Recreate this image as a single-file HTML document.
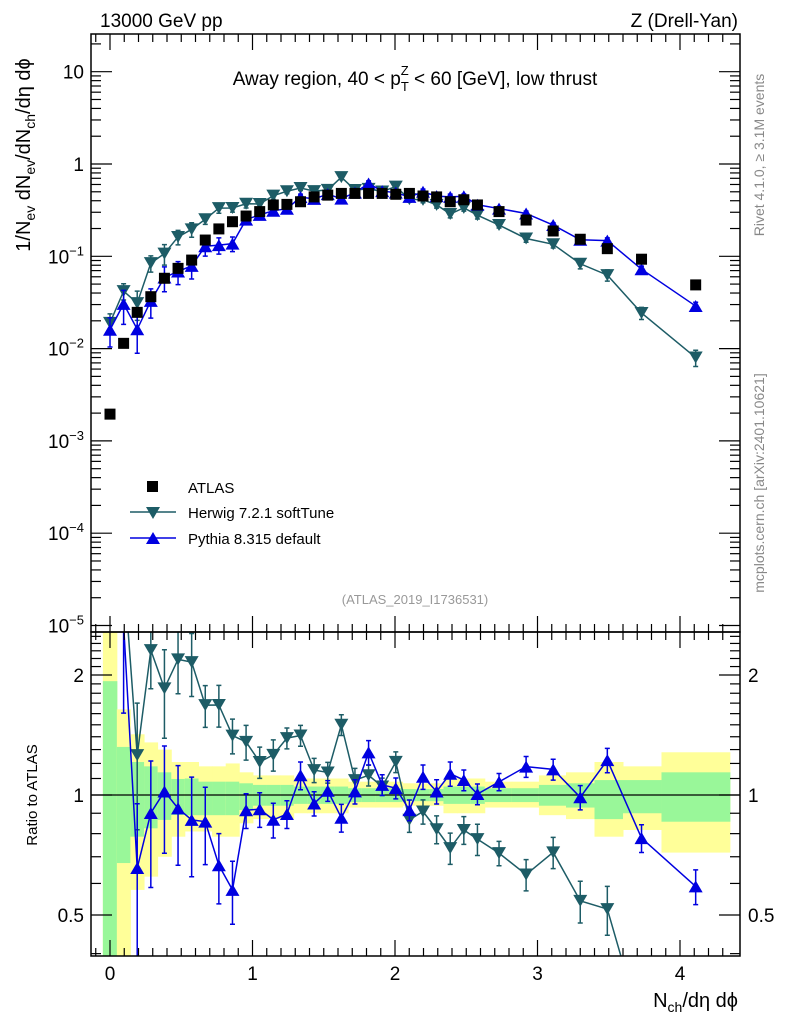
<!DOCTYPE html>
<html><head><meta charset="utf-8"><style>
html,body{margin:0;background:#fff;overflow:hidden;width:786px;height:1024px;}
svg{display:block;font-family:"Liberation Sans",sans-serif;}
</style></head><body>
<svg id="c" width="786" height="1024" viewBox="0 0 786 1024" xmlns="http://www.w3.org/2000/svg">
<defs>
<clipPath id="cm"><rect x="91" y="34" width="649" height="598"/></clipPath>
<clipPath id="cr"><rect x="91" y="632" width="649" height="324"/></clipPath>
</defs>
<g id="bands" clip-path="url(#cr)"></g>
<g id="ratio" clip-path="url(#cr)"></g>
<g id="main" clip-path="url(#cm)"></g>
<g id="axes"></g>
<text x="100" y="27" font-size="19">13000 GeV pp</text>
<text x="738" y="27" font-size="19" text-anchor="end">Z (Drell-Yan)</text>
<text x="415" y="85" font-size="19" text-anchor="middle">Away region, 40 &lt; p<tspan font-size="13" dy="6">T</tspan><tspan font-size="13" dx="-8" dy="-16">Z</tspan><tspan dy="10"> &lt; 60 [GeV], low thrust</tspan></text>
<text transform="translate(30,155) rotate(-90)" font-size="20" text-anchor="middle">1/N<tspan font-size="14" dy="5">ev</tspan><tspan dy="-5"> dN</tspan><tspan font-size="14" dy="5">ev</tspan><tspan dy="-5">/dN</tspan><tspan font-size="14" dy="5">ch</tspan><tspan dy="-5">/dη dϕ</tspan></text>
<text transform="translate(764,155) rotate(-90)" font-size="14" fill="#888" text-anchor="middle">Rivet 4.1.0, ≥ 3.1M events</text>
<text transform="translate(764,483) rotate(-90)" font-size="14" fill="#888" text-anchor="middle">mcplots.cern.ch [arXiv:2401.10621]</text>
<text x="415" y="604" font-size="13" fill="#999" text-anchor="middle">(ATLAS_2019_I1736531)</text>
<text transform="translate(37,795) rotate(-90)" font-size="15" text-anchor="middle">Ratio to ATLAS</text>
<text x="738" y="1007" font-size="20" text-anchor="end">N<tspan font-size="14" dy="5">ch</tspan><tspan dy="-5">/dη dϕ</tspan></text>
<g>
<rect x="147" y="481" width="11" height="11" fill="#000"/>
<text x="188" y="493" font-size="15">ATLAS</text>
<line x1="130" y1="512" x2="176" y2="512" stroke="#1d5c66" stroke-width="1.5"/>
<polygon points="146,507 160,507 153,519" fill="#1d5c66"/>
<text x="188" y="518" font-size="15">Herwig 7.2.1 softTune</text>
<line x1="130" y1="538" x2="176" y2="538" stroke="#0000e0" stroke-width="1.5"/>
<polygon points="146,544 160,544 153,532" fill="#0000e0"/>
<text x="188" y="544" font-size="15">Pythia 8.315 default</text>
</g>
</svg>
<script>
const xVals=[0,0.0955,0.191,0.2865,0.382,0.4775,0.573,0.6685,0.764,0.8595,0.955,1.0505,1.146,1.2415,1.337,1.4325,1.528,1.6235,1.719,1.8145,1.91,2.0055,2.101,2.1965,2.292,2.3875,2.483,2.5785,2.73,2.92,3.11,3.30,3.49,3.73,4.11];
const atlas=[0.00195,0.0114,0.0247,0.0365,0.0578,0.074,0.091,0.150,0.198,0.237,0.273,0.305,0.36,0.365,0.39,0.44,0.46,0.48,0.48,0.48,0.48,0.47,0.48,0.45,0.44,0.39,0.41,0.36,0.305,0.247,0.188,0.153,0.121,0.093,0.049];
const herwig=[0.019,0.042,0.0311,0.0843,0.107,0.162,0.196,0.252,0.333,0.334,0.371,0.369,0.454,0.507,0.550,0.508,0.524,0.72,0.523,0.538,0.504,0.569,0.416,0.409,0.361,0.287,0.335,0.279,0.218,0.156,0.135,0.083,0.0626,0.0243,0.0080];
const pythia=[0.016,0.0305,0.0162,0.0329,0.059,0.0685,0.0788,0.1286,0.132,0.137,0.250,0.281,0.312,0.327,0.437,0.419,0.4715,0.421,0.49,0.614,0.509,0.489,0.44,0.50,0.449,0.441,0.447,0.362,0.329,0.291,0.218,0.151,0.148,0.0725,0.0289];
const herwigErr=[0.25,0.2,0.35,0.2,0.25,0.18,0.18,0.12,0.12,0.1,0.1,0.09,0.09,0.06,0.06,0.07,0.06,0.06,0.07,0.06,0.05,0.06,0.07,0.07,0.08,0.09,0.08,0.09,0.07,0.09,0.09,0.12,0.14,0.15,0.2];
const pythiaErr=[0.35,0.4,0.45,0.35,0.3,0.28,0.28,0.22,0.2,0.18,0.1,0.1,0.1,0.08,0.08,0.07,0.06,0.08,0.07,0.07,0.06,0.06,0.06,0.07,0.07,0.07,0.06,0.06,0.05,0.06,0.06,0.07,0.07,0.08,0.1];
const binLo=[-0.05,0.048,0.143,0.239,0.334,0.43,0.525,0.621,0.716,0.812,0.907,1.003,1.098,1.194,1.289,1.385,1.48,1.576,1.671,1.767,1.862,1.958,2.053,2.149,2.244,2.34,2.435,2.531,2.63,2.82,3.01,3.2,3.4,3.6,3.87];
const binHi=[0.048,0.143,0.239,0.334,0.43,0.525,0.621,0.716,0.812,0.907,1.003,1.098,1.194,1.289,1.385,1.48,1.576,1.671,1.767,1.862,1.958,2.053,2.149,2.244,2.34,2.435,2.531,2.63,2.82,3.01,3.2,3.4,3.6,3.87,4.35];
const yelUp=[3,1.64,1.42,1.355,1.30,1.21,1.21,1.18,1.18,1.20,1.14,1.12,1.12,1.12,1.10,1.10,1.10,1.10,1.08,1.08,1.08,1.08,1.07,1.07,1.07,1.10,1.10,1.10,1.08,1.08,1.12,1.14,1.21,1.18,1.28];
const yelLo=[0.3,0.3,0.578,0.624,0.70,0.786,0.81,0.81,0.786,0.786,0.849,0.87,0.87,0.87,0.90,0.90,0.90,0.90,0.93,0.93,0.93,0.93,0.94,0.94,0.94,0.90,0.90,0.90,0.93,0.93,0.89,0.87,0.786,0.817,0.717];
const grnUp=[1.93,1.32,1.21,1.18,1.14,1.097,1.10,1.08,1.08,1.08,1.07,1.06,1.06,1.06,1.05,1.05,1.05,1.05,1.04,1.04,1.04,1.04,1.035,1.035,1.035,1.05,1.05,1.05,1.04,1.04,1.06,1.07,1.09,1.09,1.14];
const grnLo=[0.3,0.675,0.786,0.825,0.866,0.891,0.89,0.89,0.89,0.89,0.917,0.94,0.94,0.94,0.95,0.95,0.95,0.95,0.96,0.96,0.96,0.96,0.965,0.965,0.965,0.95,0.95,0.95,0.96,0.96,0.94,0.93,0.87,0.90,0.857];
const xTicks=[0,1,2,3,4];
const mainTicks=["10","1","10^-1","10^-2","10^-3","10^-4","10^-5"];
const ratioTicks=[0.5,1,2];

const NS="http://www.w3.org/2000/svg";
const X=v=>110+v*142.5;
const Ym=v=>164-Math.log10(v)*92.3;
const Yr=v=>795-Math.log2(v)*120;
const L=91,R=740,T=34,MB=632,RB=956;
function mk(p,tag,at){const e=document.createElementNS(NS,tag);for(const k in at)e.setAttribute(k,at[k]);p.appendChild(e);return e;}
const gm=document.getElementById('main'),gr=document.getElementById('ratio'),gb=document.getElementById('bands'),ga=document.getElementById('axes');

for(let i=0;i<binLo.length;i++){
 const y=mk(gb,'rect',{x:X(binLo[i]),y:Yr(yelUp[i]),width:X(binHi[i])-X(binLo[i])+0.5,height:Yr(yelLo[i])-Yr(yelUp[i]),fill:'#ffff99'});
 
 
 const g=mk(gb,'rect',{x:X(binLo[i]),y:Yr(grnUp[i]),width:X(binHi[i])-X(binLo[i])+0.5,height:Yr(grnLo[i])-Yr(grnUp[i]),fill:'#99f799'});
 
 
}
const one=mk(gr,'line',{x1:L,x2:R,y1:Yr(1),y2:Yr(1),stroke:'#000','stroke-width':1.3});



function series(g,vals,errs,col,down,yf,name){
 let d='';vals.forEach((v,i)=>{d+=(i?'L':'M')+X(xVals[i])+','+yf(v);});
 const p=mk(g,'path',{d:d,fill:'none',stroke:col,'stroke-width':1.5});
 
 
 vals.forEach((v,i)=>{
  const x=X(xVals[i]),y=yf(v),y1=yf(v*(1+errs[i])),y2=yf(v*(1-errs[i]));
  const e=mk(g,'path',{d:`M${x},${y1}V${y2}M${x-2.5},${y1}h5M${x-2.5},${y2}h5`,stroke:col,'stroke-width':1.5,fill:'none'});
  
  
  const pts=down?`${x-7},${y-6} ${x+7},${y-6} ${x},${y+6}`:`${x-7},${y+6} ${x+7},${y+6} ${x},${y-6}`;
  const m=mk(g,'polygon',{points:pts,fill:col});
  
  
 });
}
series(gm,herwig,herwigErr,'#1d5c66',true,Ym,'herwig');
series(gm,pythia,pythiaErr,'#0000e0',false,Ym,'pythia');
atlas.forEach((v,i)=>{
 const r=mk(gm,'rect',{x:X(xVals[i])-5.5,y:Ym(v)-5.5,width:11,height:11,fill:'#000'});
 
 
});
series(gr,herwig.map((v,i)=>v/atlas[i]),herwigErr,'#1d5c66',true,Yr,'herwig-ratio');
series(gr,pythia.map((v,i)=>v/atlas[i]),pythiaErr,'#0000e0',false,Yr,'pythia-ratio');

[[T,MB],[MB,RB]].forEach(([t,b],k)=>{
 const f=mk(ga,'rect',{x:L,y:t,width:R-L,height:b-t,fill:'none',stroke:'#000','stroke-width':1.5});
 
 
 for(let v=-0.1;v<=4.35;v+=0.1){
  const vv=Math.round(v*10)/10;const x=X(vv);if(x<L||x>R)continue;
  const len=Math.abs(vv-Math.round(vv))<1e-6?16:8;
  mk(ga,'line',{x1:x,x2:x,y1:b,y2:b-len,stroke:'#000','stroke-width':1.2});
  mk(ga,'line',{x1:x,x2:x,y1:t,y2:t+len,stroke:'#000','stroke-width':1.2});
 }
});
xTicks.forEach(v=>{
 const t=mk(ga,'text',{x:X(v),y:980,'font-size':19,'text-anchor':'middle'});t.textContent=v;
 
 
});
for(let e=-5;e<=1;e++){
 for(let m=1;m<10;m++){
  const v=m*Math.pow(10,e);const y=Ym(v);if(y<T||y>MB)continue;
  const len=m===1?21:10;
  mk(ga,'line',{x1:L,x2:L+len,y1:y,y2:y,stroke:'#000','stroke-width':1.2});
  mk(ga,'line',{x1:R,x2:R-len,y1:y,y2:y,stroke:'#000','stroke-width':1.2});
 }
}
mainTicks.forEach((s,i)=>{
 const y=Ym(Math.pow(10,1-i))+7;
 const t=mk(ga,'text',{x:84,y:y,'font-size':19,'text-anchor':'end'});
 
 
 if(s.indexOf('^')<0){t.textContent=s;}
 else{const [b,ex]=s.split('^');t.appendChild(document.createTextNode(b));
  const sp=document.createElementNS(NS,'tspan');sp.setAttribute('font-size','13');sp.setAttribute('dy','-8');sp.textContent=ex.replace('-','\u2212');t.appendChild(sp);}
});
for(let v=0.4;v<=2.55;v+=0.1){
 const vv=Math.round(v*10)/10;const y=Yr(vv);if(y<MB||y>RB)continue;
 const major=(vv===0.5||vv===1||vv===2);const len=major?21:10;
 mk(ga,'line',{x1:L,x2:L+len,y1:y,y2:y,stroke:'#000','stroke-width':1.2});
 mk(ga,'line',{x1:R,x2:R-len,y1:y,y2:y,stroke:'#000','stroke-width':1.2});
}
ratioTicks.forEach(v=>{
 const a=mk(ga,'text',{x:84,y:Yr(v)+7,'font-size':19,'text-anchor':'end'});a.textContent=v;
 
 
 const b=mk(ga,'text',{x:748,y:Yr(v)+7,'font-size':19});b.textContent=v;
 
 
});
</script>
</body></html>
